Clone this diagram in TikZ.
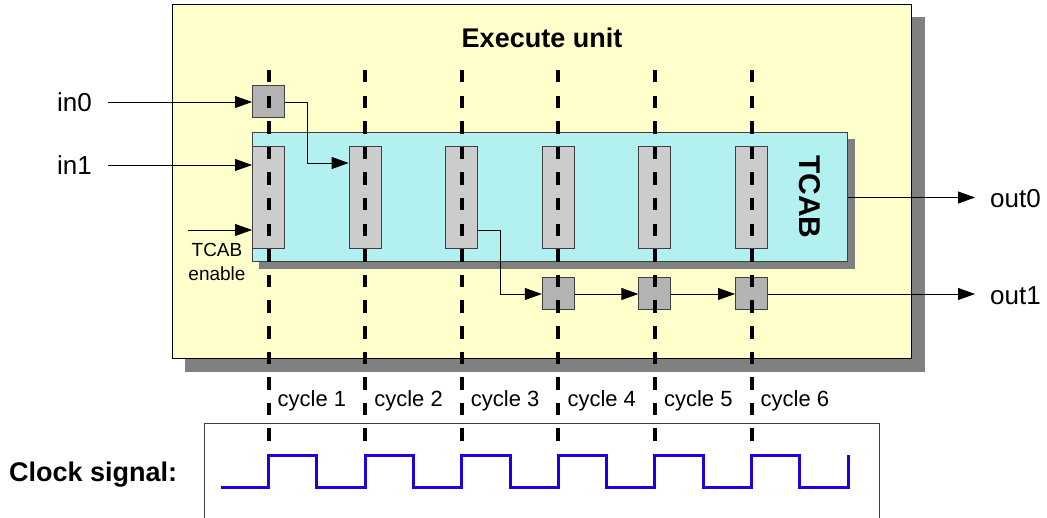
\documentclass[tikz,border=0pt]{standalone}
\usepackage{fontspec}
\setmainfont{Liberation Sans}
\usetikzlibrary{arrows.meta,calc}

\definecolor{unitfill}{HTML}{FFFFCC}
\definecolor{tcabfill}{HTML}{B3F0F0}
\definecolor{shadowgray}{HTML}{808080}
\definecolor{regtall}{HTML}{CCCCCC}
\definecolor{regsmall}{HTML}{B3B3B3}
\definecolor{regedge}{HTML}{404040}
\definecolor{clockblue}{HTML}{2200DD}

\newcommand\setfs[2]{\fontsize{#1bp}{#2bp}\selectfont}

\tikzset{
  unitbox/.style={draw=black, line width=1bp, fill=unitfill, inner sep=0},
  tcabbox/.style={draw=regedge, line width=1bp, fill=tcabfill, inner sep=0},
  shadowfill/.style={fill=shadowgray, draw=none},
  tallreg/.style={draw=regedge, line width=1bp, fill=regtall, inner sep=0,
                  minimum width=32bp, minimum height=102bp},
  smallreg/.style={draw=regedge, line width=1bp, fill=regsmall, inner sep=0,
                   minimum width=32bp, minimum height=32bp},
  wire/.style={draw=black, line width=0.8bp, -{Triangle[length=17bp,width=12bp]}},
  cycleline/.style={draw=black, line width=4bp, dash pattern=on 12.5bp off 13.1bp},
  clockwave/.style={draw=clockblue, line width=3bp},
  txt/.style={inner sep=0, font=\setfs{26}{30}},
  smalltxt/.style={inner sep=0, font=\setfs{22}{26}},
  boldtxt/.style={inner sep=0, font=\setfs{27}{32}\bfseries},
}

\begin{document}
\begin{tikzpicture}[x=1bp, y=-1bp]
\useasboundingbox (0,0) rectangle (1047,518);

% execute unit with drop shadow
\node[unitbox, minimum width=738bp, minimum height=353bp] (exec) at (542,181.5) {};
\fill[shadowfill] ($(exec.north west)+(13,13)$) rectangle ($(exec.south east)+(13,13)$);
\node[unitbox, minimum width=738bp, minimum height=353bp] at (542,181.5) {};
\node[boldtxt] (title) at (542,38) {Execute unit};

% TCAB block with drop shadow
\node[tcabbox, minimum width=594bp, minimum height=129bp] (tcab) at (550,197.5) {};
\fill[shadowfill] ($(tcab.north west)+(7,7)$) rectangle ($(tcab.south east)+(7,7)$);
\node[tcabbox, minimum width=594bp, minimum height=129bp] at (550,197.5) {};
\node[inner sep=0, rotate=-90, font=\setfs{30}{34}\bfseries] (tcablabel) at (810,197) {TCAB};

% registers
\node[smallreg] (r0) at (268.5,102) {};
\foreach \i in {1,...,6}
  \node[tallreg] (t\i) at ({268.5+96.6*(\i-1)},198) {};
\foreach \i in {4,5,6}
  \node[smallreg] (b\i) at ({268.5+96.6*(\i-1)},294) {};

% port labels and free wire ends
\node[txt, anchor=east] (in0) at (92,102) {in0};
\node[txt, anchor=east] (in1) at (92,165) {in1};
\node[inner sep=0, align=center, font=\setfs{19}{24}] (enl) at (217,262) {TCAB\\enable};
\node[txt, anchor=west] (out0) at (990,199) {out0};
\node[txt, anchor=west] (out1) at (990,296) {out1};
\coordinate (in0s) at (108,102);
\coordinate (in1s) at (108,165);
\coordinate (ens) at (188,230);
\coordinate (out0e) at (975,197.5);
\coordinate (out1e) at (975,294);

% data paths
\draw[wire] (in0s) -- (r0);
\draw[wire] (in1s) -- (in1s -| t1.west);
\draw[wire] (ens) -- (ens -| t1.west);
\draw[wire] (r0.east) -- ++(22,0) |- ($(t2.west)+(0,-35)$);
\draw[wire] ($(t3.east)+(0,32)$) -- ++(22,0) |- (b4.west);
\draw[wire] (b4) -- (b5);
\draw[wire] (b5) -- (b6);
\draw[wire] (b6) -- (out1e);
\draw[wire] (tcab) -- (out0e);

% clock panel
\draw[draw=regedge, line width=1bp] (204,518) |- (879,423) -- (879,518);
\node[boldtxt, anchor=west] (clk) at (9,475) {Clock signal:};
\draw[clockwave] (221,487)
  \foreach \k in {0,...,5} {
    -- ({268.5+96.6*\k},487) -- ({268.5+96.6*\k},455)
    -- ({316.8+96.6*\k},455) -- ({316.8+96.6*\k},487) }
  -- (848,487) -- (848,455);

% cycle boundaries and labels
\foreach \k in {1,...,6} {
  \draw[cycleline] ({268.5+96.6*(\k-1)},70) -- ({268.5+96.6*(\k-1)},442);
  \node[smalltxt, anchor=west] (c\k) at ({277.5+96.6*(\k-1)},401) {cycle \k};
}
\end{tikzpicture}
\end{document}
